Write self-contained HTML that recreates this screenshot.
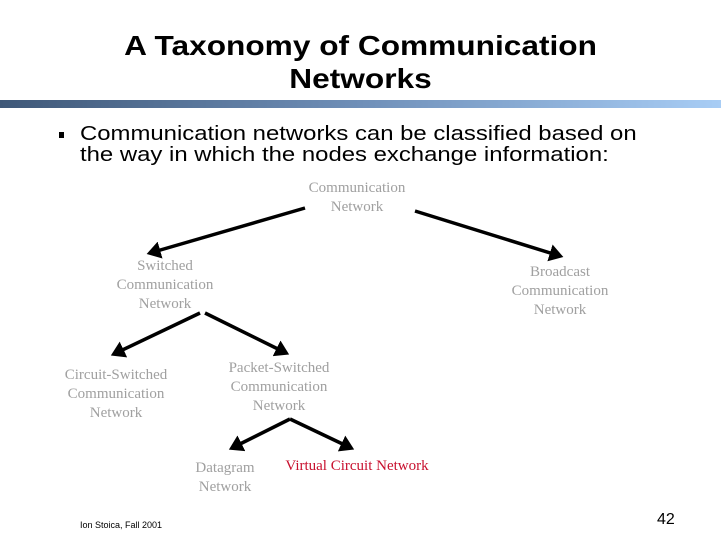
<!DOCTYPE html>
<html><head><style>
body{margin:0;width:721px;height:541px;background:#fff;overflow:hidden;position:relative;font-family:"Liberation Sans",sans-serif}
.t{position:absolute;left:0;width:721px;text-align:center;font-size:28px;line-height:33px;top:29px;color:#000;font-weight:bold;transform:scaleX(1.13)}
.bar{position:absolute;left:0;top:100px;width:721px;height:8px;background:linear-gradient(to right,#3f5878,#6f8fb8 50%,#a8cdf5)}
.b{position:absolute;left:80px;top:124px;font-size:20px;line-height:21px;color:#000;transform:scaleX(1.195);transform-origin:0 0;white-space:nowrap}
.bl{position:absolute;left:59px;top:132px;width:5px;height:6px;background:#000}
.n{position:absolute;font-family:"Liberation Serif",serif;font-size:15px;line-height:19px;color:#a0a0a0;text-align:center;white-space:nowrap;transform:translateX(-50%)}
.f{position:absolute;left:80px;top:520px;font-size:9px;color:#000}
.p{position:absolute;left:657px;top:511px;font-size:16px;color:#000}
</style></head><body>
<div class="t">A Taxonomy of Communication<br>Networks</div>
<div class="bar"></div>
<div class="bl"></div>
<div class="b">Communication networks can be classified based on<br>the way in which the nodes exchange information:</div>
<svg width="721" height="541" style="position:absolute;left:0;top:0">
<defs><marker id="a" markerWidth="5" markerHeight="5" refX="3" refY="2.5" orient="auto" markerUnits="strokeWidth"><path d="M0,0 L4,2.5 L0,5 z" fill="#000"/></marker></defs>
<g stroke="#000" stroke-width="3.5" fill="none" marker-end="url(#a)">
<line x1="305" y1="208" x2="150" y2="253"/>
<line x1="415" y1="211" x2="560" y2="256"/>
<line x1="200" y1="313" x2="114" y2="354"/>
<line x1="205" y1="313" x2="286" y2="353"/>
<line x1="290" y1="419" x2="232" y2="448"/>
<line x1="290" y1="419" x2="351" y2="448"/>
</g></svg>
<div class="n" style="left:357px;top:179px">Communication<br>Network</div>
<div class="n" style="left:165px;top:257px">Switched<br>Communication<br>Network</div>
<div class="n" style="left:560px;top:263px">Broadcast<br>Communication<br>Network</div>
<div class="n" style="left:116px;top:366px">Circuit-Switched<br>Communication<br>Network</div>
<div class="n" style="left:279px;top:359px">Packet-Switched<br>Communication<br>Network</div>
<div class="n" style="left:225px;top:459px">Datagram<br>Network</div>
<div class="n" style="left:357px;top:457px;color:#c8102e">Virtual Circuit Network</div>
<div class="f">Ion Stoica, Fall 2001</div>
<div class="p">42</div>
</body></html>
